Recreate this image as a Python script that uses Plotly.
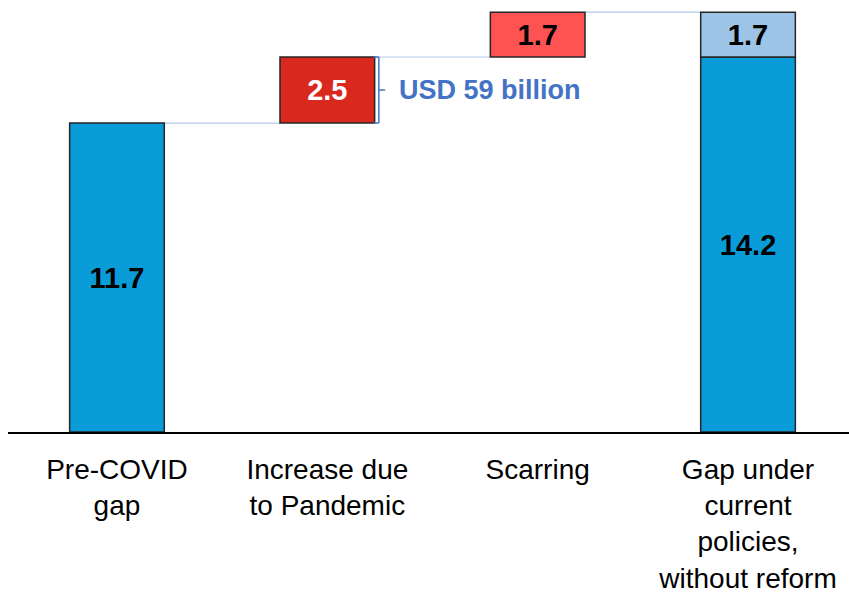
import plotly.graph_objects as go

categories = ["Pre-COVID<br>gap", "Increase due<br>to Pandemic", "Scarring",
              "Gap under<br>current<br>policies,<br>without reform"]
pre_covid = 11.7
pandemic_increase = 2.5
scarring = 1.7
final_base = 14.2
final_top = 1.7
bracket_label = "USD 59 billion"

BLUE = "#0A9BD9"
DARK_RED = "#D9281E"
LIGHT_RED = "#FF5252"
LIGHT_BLUE = "#9DC3E6"
OUTLINE = "#262626"
CONNECT = "#B4C7E7"
BRACKET = "#4472C4"
W = 0.45
FONT = "Liberation Sans, Arial"

fig = go.Figure()

def add_bar(cat, val, base, color, tcolor):
    fig.add_trace(go.Bar(
        x=[cat], y=[val], base=[base], width=W,
        marker=dict(color=color, line=dict(color=OUTLINE, width=1.5)),
        text=[f"{val:.1f}"], textposition="inside", insidetextanchor="middle",
        textangle=0, constraintext="none",
        textfont=dict(family=FONT, size=29, color=tcolor, weight="bold"),
        showlegend=False, hoverinfo="skip",
    ))

add_bar(categories[0], pre_covid, 0, BLUE, "black")
add_bar(categories[1], pandemic_increase, pre_covid, DARK_RED, "white")
add_bar(categories[2], scarring, pre_covid + pandemic_increase, LIGHT_RED, "black")
add_bar(categories[3], final_base, 0, BLUE, "black")
add_bar(categories[3], final_top, final_base, LIGHT_BLUE, "black")

shapes = []
lvl1 = pre_covid
lvl2 = pre_covid + pandemic_increase
lvl3 = lvl2 + scarring
for i, lvl in [(0, lvl1), (1, lvl2), (2, lvl3)]:
    shapes.append(dict(type="line", xref="x", yref="y", x0=i + W / 2, x1=i + 1 - W / 2,
                       y0=lvl, y1=lvl, line=dict(color=CONNECT, width=1.2), layer="below"))

xb = 1 + W / 2 + 0.02
bl = dict(color=BRACKET, width=1.5)
shapes += [
    dict(type="line", xref="x", yref="y", x0=xb, x1=xb, y0=lvl1, y1=lvl2, line=bl),
    dict(type="line", xref="x", yref="y", x0=xb - 0.025, x1=xb, y0=lvl1, y1=lvl1, line=bl),
    dict(type="line", xref="x", yref="y", x0=xb - 0.025, x1=xb, y0=lvl2, y1=lvl2, line=bl),
    dict(type="line", xref="x", yref="y", x0=xb, x1=xb + 0.03, y0=(lvl1 + lvl2) / 2,
         y1=(lvl1 + lvl2) / 2, line=bl),
]

fig.add_annotation(x=xb + 0.085, y=(lvl1 + lvl2) / 2, xref="x", yref="y",
                   text=f"<b>{bracket_label}</b>", showarrow=False, xanchor="left",
                   yanchor="middle",
                   font=dict(family=FONT, size=27, color=BRACKET))

fig.update_layout(
    width=849, height=595,
    margin=dict(l=8, r=0, t=5, b=163, autoexpand=False),
    paper_bgcolor="white", plot_bgcolor="white",
    barmode="overlay",
    shapes=shapes,
    font=dict(family=FONT, size=28, color="black"),
    xaxis=dict(type="category", range=[-0.518, 3.48], showline=True, linecolor="black",
               linewidth=2, showgrid=False, ticks="", ticklabelstandoff=11,
               automargin=False, tickfont=dict(family=FONT, size=28, color="black")),
    yaxis=dict(range=[0, 16.17], visible=False, showgrid=False, zeroline=False,
               automargin=False),
)

fig.write_html("out.html", config={"displayModeBar": False},
               post_script="document.body.style.margin='0px';")
